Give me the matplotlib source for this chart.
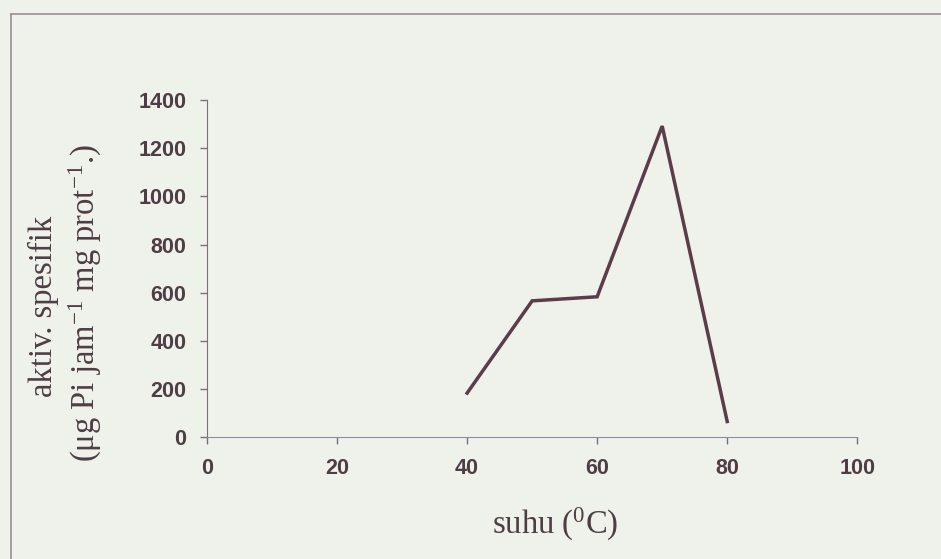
import matplotlib
matplotlib.use("Agg")
import matplotlib.pyplot as plt
from matplotlib.lines import Line2D

# data
suhu = [40, 50, 60, 70, 80]
aktivitas = [183, 566, 583, 1292, 65]
x_ticks = [0, 20, 40, 60, 80, 100]
y_ticks = [0, 200, 400, 600, 800, 1000, 1200, 1400]

bg = "#eef2ea"
ink = "#4e3d45"
line_col = "#5c3c4a"

plt.rcParams['mathtext.fontset'] = 'custom'
plt.rcParams['mathtext.rm'] = 'Liberation Serif'
plt.rcParams['mathtext.default'] = 'regular'

fig = plt.figure(figsize=(9.41, 5.59), dpi=100, facecolor=bg)
ax = fig.add_axes([0.22, 0.218, 0.691, 0.603])
ax.set_facecolor(bg)

ax.plot(suhu, aktivitas, color=line_col, lw=2.5, solid_joinstyle='miter')

ax.set_xlim(0, 100)
ax.set_ylim(0, 1400)
ax.set_xticks(x_ticks)
ax.set_yticks(y_ticks)
for s in ['top', 'right']:
    ax.spines[s].set_visible(False)
ax.spines['left'].set_color('#7d6e78')
ax.spines['bottom'].set_color('#8a90a4')
ax.tick_params(direction='out', length=5, width=1, colors='#7d6e78',
               labelcolor=ink, pad=10)
for lab in ax.get_xticklabels() + ax.get_yticklabels():
    lab.set_fontfamily('Liberation Sans')
    lab.set_fontweight('bold')
    lab.set_fontsize(15.5)

# axis titles (Times-like)
fig.text(0.59, 0.062, r'suhu ($^{0}$C)', ha='center', va='center',
         fontsize=23.5, family='Liberation Serif', color=ink)
fig.text(0.046, 0.452, 'aktiv. spesifik', ha='center', va='center',
         rotation=90, fontsize=23.5, family='Liberation Serif', color=ink)
fig.text(0.091, 0.458, r'($\mu$g Pi jam$^{-1}$ mg prot$^{-1}$.)', ha='center',
         va='center', rotation=90, fontsize=23.5, family='Liberation Serif',
         color=ink)

# frame of the scanned page
fig.add_artist(Line2D([0.012, 0.012], [0.0, 0.975], transform=fig.transFigure,
                      color='#9a8c94', lw=1.2))
fig.add_artist(Line2D([0.012, 1.0], [0.975, 0.975], transform=fig.transFigure,
                      color='#9a8c94', lw=1.2))

fig.savefig("out.png", dpi=100, facecolor=bg)
